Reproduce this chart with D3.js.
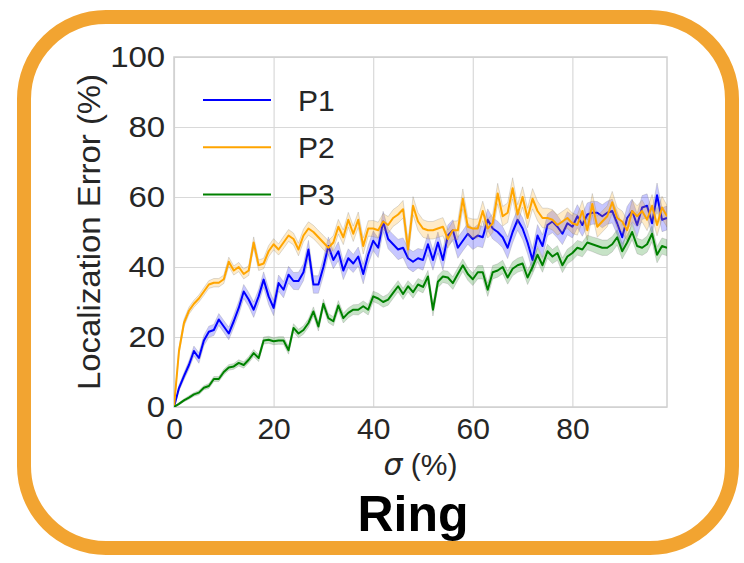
<!DOCTYPE html>
<html>
<head>
<meta charset="utf-8">
<script src="https://cdn.jsdelivr.net/npm/d3@7"></script>
<style>
	body { margin: 0; background: #fff; }
	svg { display: block; }
</style>
</head>
<body>
<svg id="chart"></svg>
<script>
// Localization error vs sigma, one value per sigma step (0..99 %)
var seriesNames = ["P1", "P2", "P3"];
var seriesColors = ["#0000ff", "#ffa500", "#008000"];

var p1 = [0, 5.4, 8.8, 12, 16, 14, 19, 21.5, 22, 25,
	23, 21, 24.5, 28.3, 33, 30.7, 27.8, 31.6, 36.4, 31.6,
	28.3, 35.4, 33.5, 37.8, 36, 36, 38.5, 45, 35, 35,
	40, 46, 42, 44.5, 39, 42.5, 41, 43, 38, 43.5,
	47.5, 45.5, 53, 48, 46.5, 45, 45.5, 42.5, 41.5, 42.5,
	42, 46.5, 42, 47, 42, 49, 50.5, 45.5, 47.5, 49.5,
	48, 49, 48.5, 53.5, 51, 50, 48.5, 45.5, 50, 53.5,
	51, 47, 42, 49, 46, 52, 53, 51.5, 49.5, 52.5,
	51.5, 54.5, 52, 55, 55.5, 55.5, 54.5, 55.5, 56, 52.5,
	48.5, 54, 56, 52, 57, 57.5, 52.5, 60.5, 53.5, 54];

var p2 = [0, 16, 24, 27.5, 29.5, 31, 33, 35, 35.5, 35.5,
	36.5, 41.5, 39, 40, 38, 39, 47, 40.5, 41, 44.5,
	46.5, 45, 47, 49, 48, 45, 49, 51, 50, 48.5,
	47, 45.5, 47, 51.5, 48.5, 53.5, 49.5, 53.5, 46, 51,
	51, 50.5, 53, 52, 54, 55, 56.5, 45, 57.5, 53,
	51, 50.5, 50.5, 51, 51.5, 48, 50.5, 50.5, 59.5, 51.5,
	51, 51, 56, 51, 52.5, 61, 54.5, 55.5, 62.5, 55,
	60, 54, 59.5, 56, 54, 54, 53.5, 52, 53, 54,
	52.5, 52, 56, 50.5, 58, 51.5, 53, 54.5, 58.5, 54,
	53, 50.5, 56, 54.5, 56, 53.5, 57.5, 52, 57, 54.5];

var p3 = [0, 0.9, 1.9, 2.7, 3.6, 4.1, 5.5, 6, 8, 8,
	10, 11.3, 11.6, 12.6, 12, 13.5, 15.4, 14, 19, 19.2,
	18.8, 19, 19, 16.2, 22.6, 21, 22, 24, 27.3, 23,
	29.5, 25.4, 24.5, 29, 25.4, 26.9, 27.8, 27.8, 28.8, 27.8,
	31.6, 31, 30, 30.7, 32.6, 34.5, 32.3, 34.5, 32.8, 35,
	34.3, 37.3, 27.8, 35.8, 37.3, 37, 35.4, 38, 40.5, 38,
	36.5, 38.5, 38.5, 33.5, 38.5, 39, 40, 37, 39.5, 40.5,
	41, 37, 40, 43.5, 40.5, 44.5, 43, 44, 40.5, 43,
	44, 45.5, 45, 47, 46.5, 46, 45.5, 45.5, 46.5, 48.5,
	44.5, 47, 50, 46, 45.5, 46.5, 49.5, 43.5, 46, 45.5];

// half width of the shaded confidence band
var ci1 = [0, 0.8, 1, 1.2, 1.4, 1.5, 1.5, 1.6, 1.6, 1.7,
	1.7, 1.8, 1.8, 1.9, 2, 2, 2.2, 2, 2.2, 2.3,
	2.2, 2.3, 2.3, 2.4, 2.4, 2.5, 2.4, 2.6, 2.5, 2.5,
	2.6, 2.6, 2.5, 2.7, 2.6, 2.7, 2.6, 2.7, 2.8, 2.7,
	2.8, 2.8, 2.9, 2.8, 2.8, 2.9, 2.8, 2.9, 2.9, 2.8,
	2.9, 3, 2.9, 3, 2.9, 3, 3, 3, 2.9, 3,
	3, 3.1, 3, 3.1, 3, 3.1, 3, 3.1, 3.1, 3,
	3.1, 3.2, 3.3, 3.1, 3.2, 3.1, 3.2, 3.2, 3.1, 3.3,
	3.2, 3.3, 3.2, 3.3, 3.3, 3.2, 3.3, 3.3, 3.4, 3.3,
	3.4, 3.3, 3.4, 3.3, 3.4, 3.4, 3.4, 3.5, 3.4, 3.4];

var ci2 = [0, 0.8, 1, 1, 1, 1, 1.1, 1.1, 1.2, 1.2,
	1.2, 1.3, 1.3, 1.3, 1.4, 1.4, 1.6, 1.5, 1.5, 1.6,
	1.6, 1.6, 1.7, 1.7, 1.7, 1.8, 1.8, 1.9, 1.9, 1.9,
	2, 2, 2, 2.1, 2.1, 2.1, 2.2, 2.2, 2.3, 2.2,
	2.3, 2.3, 2.3, 2.4, 2.4, 2.4, 2.5, 2.6, 2.6, 2.5,
	2.5, 2.5, 2.5, 2.6, 2.6, 2.6, 2.6, 2.7, 2.8, 2.6,
	2.7, 2.7, 2.8, 2.7, 2.7, 2.9, 2.8, 2.8, 3, 2.8,
	2.9, 2.8, 2.9, 2.8, 2.8, 2.8, 2.9, 2.9, 2.9, 2.9,
	2.9, 2.9, 3, 2.9, 3, 3, 3, 3, 3.1, 3,
	3, 3, 3.1, 3, 3.1, 3.1, 3.2, 3.1, 3.2, 3.1];

var ci3 = [0, 0.3, 0.4, 0.5, 0.5, 0.6, 0.6, 0.7, 0.7, 0.7,
	0.8, 0.8, 0.8, 0.9, 0.9, 0.9, 1, 1, 1, 1,
	1, 1.1, 1.1, 1.1, 1.2, 1.2, 1.2, 1.2, 1.3, 1.3,
	1.3, 1.3, 1.3, 1.4, 1.4, 1.4, 1.4, 1.5, 1.5, 1.5,
	1.5, 1.5, 1.5, 1.6, 1.6, 1.6, 1.6, 1.6, 1.7, 1.7,
	1.7, 1.7, 1.8, 1.7, 1.7, 1.8, 1.8, 1.8, 1.8, 1.8,
	1.8, 1.9, 1.9, 1.9, 1.9, 1.9, 1.9, 1.9, 2, 2,
	2, 2, 2, 2, 2, 2, 2, 2.1, 2.1, 2.1,
	2.1, 2.1, 2.1, 2.1, 2.1, 2.2, 2.2, 2.2, 2.2, 2.2,
	2.2, 2.2, 2.2, 2.2, 2.2, 2.3, 2.3, 2.3, 2.3, 2.3];

var xTicks = [0, 20, 40, 60, 80];
var yTicks = [0, 20, 40, 60, 80, 100];

var W = 744, H = 563;
var margin = { top: 57, right: 77, bottom: 156, left: 174 },
	width = W - margin.left - margin.right,
	height = H - margin.top - margin.bottom;

var svg = d3.select("#chart").attr("width", W).attr("height", H);

// rounded orange frame round everything
svg.append("rect")
	.attr("x", 24).attr("y", 17)
	.attr("width", 708).attr("height", 531)
	.attr("rx", 82).attr("ry", 82)
	.attr("fill", "#fff")
	.attr("stroke", "#f2a431")
	.attr("stroke-width", 14);

var g = svg.append("g")
	.attr("transform", "translate(" + margin.left + "," + margin.top + ")");

var x = d3.scaleLinear().domain([0, 99]).range([0, width]);
var y = d3.scaleLinear().domain([0, 100]).range([height, 0]);

var tickFont = "'Liberation Sans', Arial, sans-serif";

// grid + tick labels
var yAxis = g.append("g")
	.call(d3.axisLeft(y).tickValues(yTicks).tickSize(-width).tickPadding(8).tickFormat(d3.format("d")));
var xAxis = g.append("g")
	.attr("transform", "translate(0," + height + ")")
	.call(d3.axisBottom(x).tickValues(xTicks).tickSize(-height).tickPadding(11).tickFormat(d3.format("d")));

[xAxis, yAxis].forEach(function (a) {
	a.select(".domain").remove();
	a.selectAll(".tick line").attr("stroke", "#d9d9d9").attr("stroke-width", 1.2);
	a.selectAll(".tick text")
		.attr("fill", "#262626")
		.style("font-family", tickFont)
		.style("font-size", "30px");
});
// y labels look a bit wider in the original
yAxis.selectAll(".tick text").attr("transform", "scale(1.1,1)");

// plot frame
g.append("rect")
	.attr("width", width).attr("height", height)
	.attr("fill", "none")
	.attr("stroke", "#d0d0d0")
	.attr("stroke-width", 1.5);

g.append("clipPath").attr("id", "clip")
	.append("rect").attr("width", width).attr("height", height);

var series = [
	{ name: seriesNames[0], color: seriesColors[0], values: p1, ci: ci1 },
	{ name: seriesNames[1], color: seriesColors[1], values: p2, ci: ci2 },
	{ name: seriesNames[2], color: seriesColors[2], values: p3, ci: ci3 }
];

var area = d3.area()
	.x(function (d) { return x(d.x); })
	.y0(function (d) { return y(d.v - d.c); })
	.y1(function (d) { return y(d.v + d.c); });

var line = d3.line()
	.x(function (d) { return x(d.x); })
	.y(function (d) { return y(d.v); });

var plot = g.append("g").attr("clip-path", "url(#clip)");

series.forEach(function (s) {
	var pts = s.values.map(function (v, i) { return { x: i, v: v, c: s.ci[i] }; });
	plot.append("path")
		.datum(pts)
		.attr("d", area)
		.attr("fill", s.color)
		.attr("fill-opacity", 0.22)
		.attr("stroke", "#777")
		.attr("stroke-opacity", 0.25)
		.attr("stroke-width", 1);
	plot.append("path")
		.datum(pts)
		.attr("d", line)
		.attr("fill", "none")
		.attr("stroke", s.color)
		.attr("stroke-width", 2)
		.attr("stroke-linejoin", "round");
});

// legend
var legend = g.append("g").attr("transform", "translate(29,43)");
series.forEach(function (s, i) {
	var row = legend.append("g").attr("transform", "translate(0," + (i * 47.3) + ")");
	row.append("line")
		.attr("x1", 0).attr("x2", 68)
		.attr("stroke", s.color).attr("stroke-width", 2);
	row.append("text")
		.attr("x", 95).attr("dy", "0.36em")
		.attr("fill", "#262626")
		.style("font-family", tickFont)
		.style("font-size", "30px")
		.text(s.name);
});

// axis titles
g.append("text")
	.attr("transform", "translate(-74," + (height / 2) + ") rotate(-90)")
	.attr("text-anchor", "middle")
	.attr("fill", "#262626")
	.attr("textLength", 316)
	.attr("lengthAdjust", "spacingAndGlyphs")
	.style("font-family", tickFont)
	.style("font-size", "31px")
	.text("Localization Error (%)");

var xTitle = g.append("text")
	.attr("x", width / 2).attr("y", height + 68)
	.attr("text-anchor", "middle")
	.attr("fill", "#262626")
	.style("font-family", tickFont)
	.style("font-size", "30px");
xTitle.append("tspan")
	.style("font-family", "'DejaVu Sans', sans-serif")
	.style("font-style", "italic")
	.text("σ");
xTitle.append("tspan").text(" (%)");

// big caption
svg.append("text")
	.attr("x", 413).attr("y", 531)
	.attr("text-anchor", "middle")
	.attr("fill", "#000")
	.style("font-family", "'Liberation Sans', Arial, sans-serif")
	.style("font-weight", "bold")
	.style("font-size", "50px")
	.text("Ring");
</script>
</body>
</html>
